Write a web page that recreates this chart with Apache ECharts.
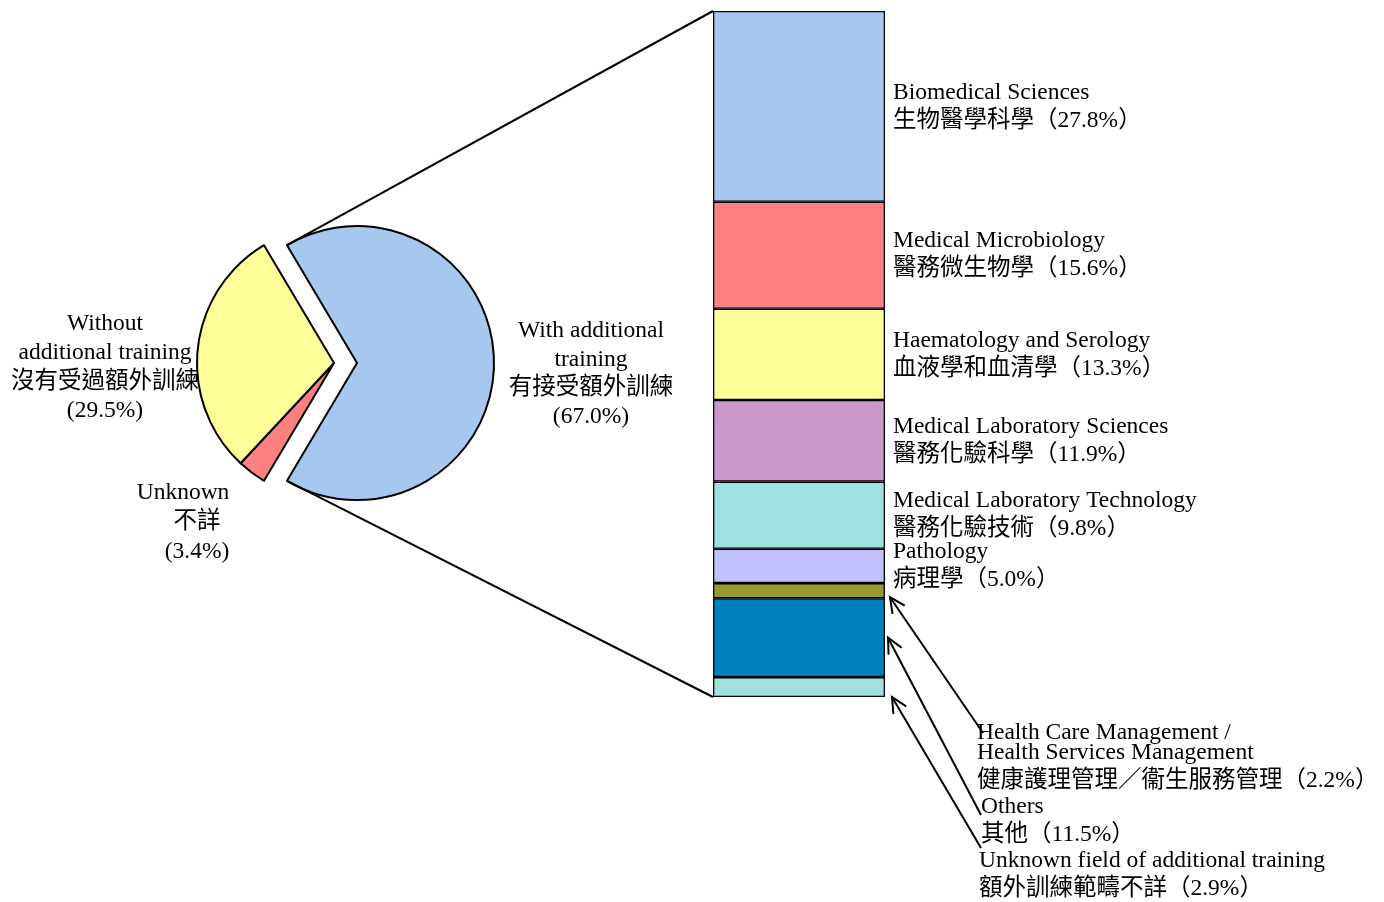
<!DOCTYPE html>
<html>
<head>
<meta charset="utf-8">
<script src="https://cdn.jsdelivr.net/npm/echarts@6/dist/echarts.min.js"></script>
<style>
html,body{margin:0;padding:0;background:#fff;}
#main{width:1384px;height:902px;}
</style>
</head>
<body>
<div id="main"></div>
<script>
// ---- data ----
const pieNames = ['With additional training', 'Unknown', 'Without additional training'];
const pieValues = [67.0, 3.4, 29.5];
const pieColors = ['#A6C8EE', '#FF8080', '#FFFF99'];

const barNamesEn = ['Biomedical Sciences', 'Medical Microbiology', 'Haematology and Serology',
  'Medical Laboratory Sciences', 'Medical Laboratory Technology', 'Pathology',
  'Health Care Management / Health Services Management', 'Others', 'Unknown field of additional training'];
const barNamesZh = ['生物醫學科學', '醫務微生物學', '血液學和血清學', '醫務化驗科學', '醫務化驗技術', '病理學',
  '健康護理管理／衞生服務管理', '其他', '額外訓練範疇不詳'];
const barValues = [27.8, 15.6, 13.3, 11.9, 9.8, 5.0, 2.2, 11.5, 2.9];
const barColors = ['#A6C8EE', '#FF8080', '#FFFF99', '#CC99CC', '#A0E0E0', '#C0C0FF', '#999933', '#0080C0', '#A0E0E0'];

// ---- layout ----
const FONT = "'Liberation Serif','Times New Roman','Noto Sans CJK TC',serif";
const FS = 23.5;
const LW = 2;
const BAR_LW = 1.3;
const pieCenter = [334, 363];
const pieR = 137;
const pieOffset = 23;
const grid = { left: 713, top: 11, width: 172, height: 686 };

const fmt = v => v.toFixed(1) + '%';

const chart = echarts.init(document.getElementById('main'), null, { renderer: 'canvas' });

const total = pieValues.reduce((a, b) => a + b, 0);
const withAngle = pieValues[0] / total * 360;
const startAngle = withAngle / 2;

const barSeries = barValues.map((v, i) => ({
  type: 'bar',
  name: barNamesEn[i],
  stack: 'all',
  barWidth: '100%',
  data: [v],
  itemStyle: { color: barColors[i], borderColor: '#000', borderWidth: BAR_LW },
  label: {
    show: i < 6,
    position: 'right',
    distance: 8,
    align: 'left',
    verticalAlign: 'middle',
    color: '#000',
    fontFamily: FONT,
    fontSize: FS,
    lineHeight: 28,
    formatter: () => barNamesEn[i] + '\n' + barNamesZh[i] + '（' + fmt(v) + '）'
  },
  emphasis: { disabled: true },
  silent: true
}));

const option = {
  animation: false,
  backgroundColor: '#fff',
  grid: grid,
  xAxis: { type: 'category', data: ['all'], show: false },
  yAxis: { type: 'value', min: 0, max: 100, inverse: true, show: false },
  series: [{
    type: 'pie',
    center: pieCenter,
    radius: pieR,
    startAngle: startAngle,
    clockwise: true,
    selectedMode: 'single',
    selectedOffset: pieOffset,
    avoidLabelOverlap: false,
    label: { show: false },
    labelLine: { show: false },
    emphasis: { disabled: true, scale: false },
    itemStyle: { borderColor: '#000', borderWidth: LW },
    select: { itemStyle: { borderColor: '#000', borderWidth: LW } },
    data: pieValues.map((v, i) => ({
      name: pieNames[i], value: v, selected: i === 0,
      itemStyle: { color: pieColors[i] },
      select: { itemStyle: { color: pieColors[i], borderColor: '#000', borderWidth: LW } }
    }))
  }].concat(barSeries)
};
chart.setOption(option);

// ---- connectors, arrows and annotations ----
const yPix = v => chart.convertToPixel({ yAxisIndex: 0 }, v);
const barLeft = grid.left, barRight = grid.left + grid.width;
const cum = [];
barValues.reduce((acc, v) => { cum.push([acc, acc + v]); return acc + v; }, 0);

const a = startAngle * Math.PI / 180;
const ox = pieCenter[0] + pieOffset;
const topPt = [ox + pieR * Math.cos(a), pieCenter[1] - pieR * Math.sin(a)];
const botPt = [ox + pieR * Math.cos(a), pieCenter[1] + pieR * Math.sin(a)];

const lineStyle = { stroke: '#000', lineWidth: LW };
const graphics = [];
graphics.push({ type: 'line', shape: { x1: topPt[0], y1: topPt[1], x2: barLeft, y2: yPix(0) }, style: lineStyle, z: 10 });
graphics.push({ type: 'line', shape: { x1: botPt[0], y1: botPt[1], x2: barLeft, y2: yPix(100) }, style: lineStyle, z: 10 });

function arrow(tail, tip) {
  graphics.push({ type: 'line', shape: { x1: tail[0], y1: tail[1], x2: tip[0], y2: tip[1] }, style: lineStyle, z: 10 });
  const ang = Math.atan2(tail[1] - tip[1], tail[0] - tip[0]);
  const L = 17, sp = 0.45;
  graphics.push({
    type: 'polyline',
    shape: { points: [
      [tip[0] + L * Math.cos(ang - sp), tip[1] + L * Math.sin(ang - sp)],
      tip,
      [tip[0] + L * Math.cos(ang + sp), tip[1] + L * Math.sin(ang + sp)]
    ] },
    style: { stroke: '#000', lineWidth: LW, fill: null }, z: 10
  });
}
arrow([983, 733], [barRight + 5, yPix(cum[6][1]) - 1]);
arrow([981, 815], [barRight + 3, yPix((cum[7][0] + cum[7][1]) / 2)]);
arrow([981, 848], [barRight + 7, yPix(cum[8][1])]);

function txt(x, y, text, align, lh) {
  graphics.push({
    type: 'text', x: x, y: y, z: 20,
    style: { text: text, fill: '#000', font: FS + 'px ' + FONT, fontFamily: FONT, fontSize: FS,
      align: align || 'left', verticalAlign: 'top', lineHeight: lh || 29 }
  });
}
// pie labels
txt(105, 309, 'Without\nadditional training\n沒有受過額外訓練\n(' + fmt(pieValues[2]) + ')', 'center', 29);
txt(183, 478, 'Unknown', 'center');
txt(197, 507, '不詳', 'center');
txt(197, 537, '(' + fmt(pieValues[1]) + ')', 'center');
txt(591, 317, 'With additional\ntraining\n有接受額外訓練\n(' + fmt(pieValues[0]) + ')', 'center', 28.5);
// bottom annotations
txt(977, 723, 'Health Care Management /\nHealth Services Management', 'left', 20);
txt(977, 767, barNamesZh[6] + '（' + fmt(barValues[6]) + '）', 'left', 28);
txt(981, 793, barNamesEn[7] + '\n' + barNamesZh[7] + '（' + fmt(barValues[7]) + '）', 'left', 28);
txt(979, 847, barNamesEn[8] + '\n' + barNamesZh[8] + '（' + fmt(barValues[8]) + '）', 'left', 28);

chart.setOption({ graphic: { elements: graphics } });
</script>
</body>
</html>
